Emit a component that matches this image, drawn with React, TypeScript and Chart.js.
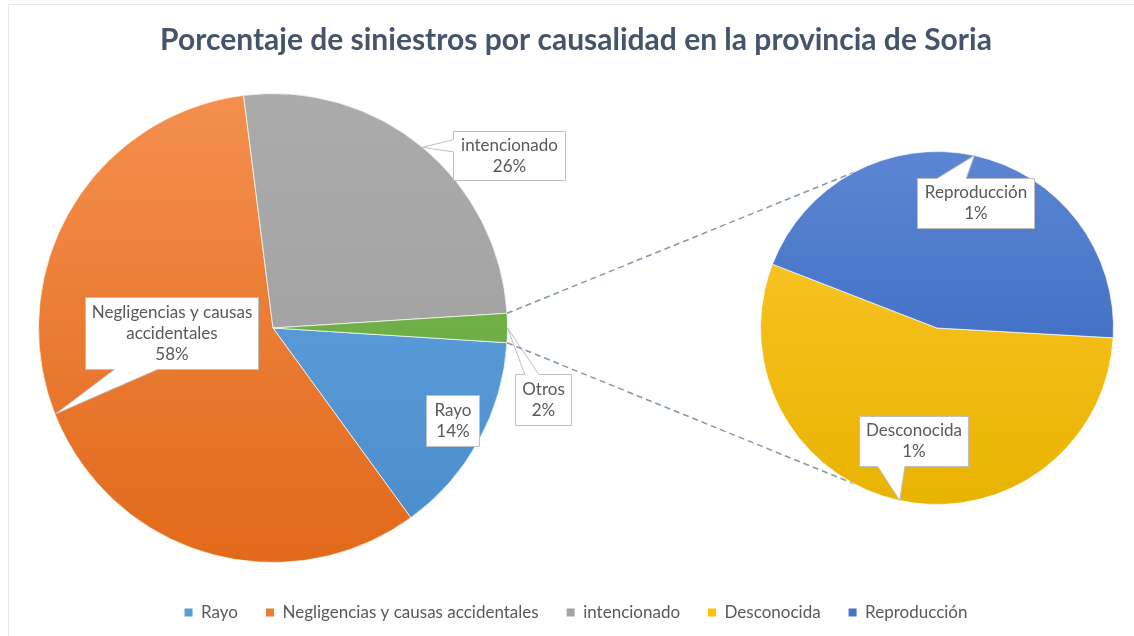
import React, { useEffect, useRef } from 'react';
import { Chart, registerables } from 'chart.js';

Chart.register(...registerables);

// ---------- data ----------
const TITLE = 'Porcentaje de siniestros por causalidad en la provincia de Soria';
const mainLabels = ['Rayo', 'Negligencias y causas accidentales', 'intencionado'];
const mainValues = [14, 58, 26];
const otrosLabel = 'Otros';
const secondaryLabels = ['Desconocida', 'Reproducción'];
const secondaryValues = [1.1, 0.9];
const legendLabels = ['Rayo', 'Negligencias y causas accidentales', 'intencionado', 'Desconocida', 'Reproducción'];

// ---------- styles ----------
const mainColorsTop = ['#66A7E3', '#F48F4E', '#ABABAB', '#7BBB51'];
const mainColorsBottom = ['#4A8BCB', '#E1691A', '#9C9C9C', '#63A23B'];
const secColorsTop = ['#FFC830', '#5C86D2'];
const secColorsBottom = ['#E8B300', '#2D60BC'];
const legendColors = ['#5B9BD5', '#ED7D31', '#A5A5A5', '#FFC000', '#4472C4'];
const TEXT_COLOR = '#595959';
const FONT_FAMILY = 'Lato, "Open Sans", sans-serif';
const LABEL_SIZE = 17;

const MAIN_PIE = { cx: 273, cy: 328, r: 235 };
const SEC_PIE = { cx: 937, cy: 328, r: 177 };
const SEC_ROTATION = 93.2;
const CONNECT_ANGLE = 118;

const MAIN_BOXES = [
  { cx: 452.5, cy: 420.5, w: 53, h: 51, breakAfter: 0 },
  { cx: 171.5, cy: 332.5, w: 173, h: 72, breakAfter: 3 },
  { cx: 509, cy: 155.5, w: 112, h: 49, breakAfter: 0 },
  { cx: 543, cy: 399.5, w: 56, h: 51, breakAfter: 0 },
];
const SEC_BOXES = [
  { cx: 913, cy: 441, w: 108, h: 50, breakAfter: 0 },
  { cx: 975.5, cy: 203, w: 117, h: 50, breakAfter: 0 },
];

const sum = (a: number[]) => a.reduce((s, v) => s + v, 0);
const otrosValue = sum(secondaryValues);
const grandTotal = sum(mainValues) + otrosValue;

function gradient(chart: any, top: string, bottom: string) {
  const area = chart.chartArea;
  if (!area) return top;
  const g = chart.ctx.createLinearGradient(0, area.top, 0, area.bottom);
  g.addColorStop(0, top);
  g.addColorStop(1, bottom);
  return g;
}

function placePie(p: { cx: number; cy: number; r: number }) {
  return {
    id: 'placePie',
    afterLayout(chart: any) {
      Object.assign(chart.chartArea, {
        left: p.cx - p.r,
        right: p.cx + p.r,
        top: p.cy - p.r,
        bottom: p.cy + p.r,
        width: 2 * p.r,
        height: 2 * p.r,
      });
    },
  };
}

function splitLabel(label: string, breakAfter: number) {
  if (!breakAfter) return [label];
  const words = label.split(' ');
  return [words.slice(0, breakAfter).join(' '), words.slice(breakAfter).join(' ')];
}

function drawCallout(ctx: CanvasRenderingContext2D, box: any, tip: { x: number; y: number }, lines: string[]) {
  ctx.save();
  ctx.font = `${LABEL_SIZE}px ${FONT_FAMILY}`;
  const tw = Math.max(...lines.map((l) => ctx.measureText(l).width));
  const w = Math.max(box.w, Math.ceil(tw + 12));
  const h = box.h;
  const l = Math.round(box.cx - w / 2) + 0.5;
  const t = Math.round(box.cy - h / 2) + 0.5;
  const r = l + w;
  const b = t + h;
  const cx = (l + r) / 2;
  const cy = (t + b) / 2;
  const dx = tip.x - cx;
  const dy = tip.y - cy;
  const inside = tip.x >= l && tip.x <= r && tip.y >= t && tip.y <= b;
  let side = '';
  if (!inside) {
    const dq = (dx * h) / w;
    if (Math.abs(dy) > Math.abs(dq)) side = dy < 0 ? 'top' : 'bottom';
    else side = dx < 0 ? 'left' : 'right';
  }
  const xa = dx < 0 ? l + (w * 2) / 12 : l + (w * 7) / 12;
  const xb = dx < 0 ? l + (w * 5) / 12 : l + (w * 10) / 12;
  const ya = dy < 0 ? t + (h * 2) / 12 : t + (h * 7) / 12;
  const yb = dy < 0 ? t + (h * 5) / 12 : t + (h * 10) / 12;
  ctx.beginPath();
  ctx.moveTo(l, t);
  if (side === 'top') {
    ctx.lineTo(xa, t);
    ctx.lineTo(tip.x, tip.y);
    ctx.lineTo(xb, t);
  }
  ctx.lineTo(r, t);
  if (side === 'right') {
    ctx.lineTo(r, ya);
    ctx.lineTo(tip.x, tip.y);
    ctx.lineTo(r, yb);
  }
  ctx.lineTo(r, b);
  if (side === 'bottom') {
    ctx.lineTo(xb, b);
    ctx.lineTo(tip.x, tip.y);
    ctx.lineTo(xa, b);
  }
  ctx.lineTo(l, b);
  if (side === 'left') {
    ctx.lineTo(l, yb);
    ctx.lineTo(tip.x, tip.y);
    ctx.lineTo(l, ya);
  }
  ctx.closePath();
  ctx.fillStyle = '#FFFFFF';
  ctx.fill();
  ctx.strokeStyle = '#BFBFBF';
  ctx.lineWidth = 1;
  ctx.stroke();
  ctx.fillStyle = TEXT_COLOR;
  ctx.textAlign = 'center';
  ctx.textBaseline = 'middle';
  const lh = 21;
  const y0 = cy - ((lines.length - 1) * lh) / 2;
  lines.forEach((ln, i) => ctx.fillText(ln, cx, y0 + i * lh));
  ctx.restore();
}

function calloutPlugin(boxes: any[], labels: string[], values: number[]) {
  return {
    id: 'callouts',
    afterDraw(chart: any) {
      const meta = chart.getDatasetMeta(0);
      meta.data.forEach((arc: any, i: number) => {
        const p = arc.getProps(['x', 'y', 'startAngle', 'endAngle', 'outerRadius'], true);
        const mid = (p.startAngle + p.endAngle) / 2;
        const tip = { x: p.x + p.outerRadius * Math.cos(mid), y: p.y + p.outerRadius * Math.sin(mid) };
        const pct = Math.round((values[i] / grandTotal) * 100);
        const lines = [...splitLabel(labels[i], boxes[i].breakAfter), `${pct}%`];
        drawCallout(chart.ctx, boxes[i], tip, lines);
      });
    },
  };
}

const framePlugin = {
  id: 'frame',
  beforeDraw(chart: any) {
    const ctx = chart.ctx;
    ctx.save();
    ctx.fillStyle = '#FFFFFF';
    ctx.fillRect(0, 0, chart.width, chart.height);
    ctx.strokeStyle = '#E2E8EF';
    ctx.lineWidth = 1;
    ctx.strokeRect(8.5, 4.5, chart.width + 20, chart.height + 20);
    ctx.restore();
  },
};

export default function App() {
  const aRef = useRef<HTMLCanvasElement>(null);
  const bRef = useRef<HTMLCanvasElement>(null);

  useEffect(() => {
    if (!aRef.current || !bRef.current) return;
    const leftLabels = [...mainLabels, otrosLabel];
    const leftValues = [...mainValues, otrosValue];
    const otrosDeg = (otrosValue / grandTotal) * 360;

    const chartA = new Chart(aRef.current, {
      type: 'pie',
      data: {
        labels: leftLabels,
        datasets: [
          {
            data: leftValues,
            backgroundColor: (c: any) =>
              c.dataIndex === undefined ? '#ccc' : gradient(c.chart, mainColorsTop[c.dataIndex], mainColorsBottom[c.dataIndex]),
            borderColor: 'rgba(255,255,255,0.7)',
            borderWidth: 1,
          },
        ],
      },
      options: {
        responsive: false,
        animation: false,
        rotation: 90 + otrosDeg / 2,
        events: [],
        layout: { padding: { top: 0, bottom: 5, left: 18, right: 0 } },
        plugins: {
          title: {
            display: true,
            text: TITLE,
            color: '#44546A',
            font: { family: FONT_FAMILY, size: 30, weight: 'bold' },
            padding: { top: 22, bottom: 10 },
          },
          legend: {
            position: 'bottom',
            onClick: () => {},
            labels: {
              boxWidth: 8,
              boxHeight: 8,
              padding: 28,
              color: TEXT_COLOR,
              font: { family: FONT_FAMILY, size: LABEL_SIZE },
              generateLabels: () =>
                legendLabels.map((text, i) => ({
                  text,
                  fillStyle: legendColors[i],
                  strokeStyle: legendColors[i],
                  lineWidth: 0,
                  hidden: false,
                  index: i,
                  fontColor: TEXT_COLOR,
                })),
            },
          },
          tooltip: { enabled: false },
        },
      } as any,
      plugins: [framePlugin, placePie(MAIN_PIE), calloutPlugin(MAIN_BOXES, leftLabels, leftValues)],
    });

    const connectorPlugin = {
      id: 'connectors',
      beforeDatasetsDraw(chart: any) {
        const arcA = chartA.getDatasetMeta(0).data[3] as any;
        const arcB = chart.getDatasetMeta(0).data[0] as any;
        if (!arcA || !arcB) return;
        const a = arcA.getProps(['x', 'y', 'startAngle', 'endAngle', 'outerRadius'], true);
        const b = arcB.getProps(['x', 'y', 'outerRadius'], true);
        const ang = (CONNECT_ANGLE * Math.PI) / 180;
        const ctx = chart.ctx;
        ctx.save();
        ctx.setLineDash([6, 4]);
        ctx.strokeStyle = '#8497B0';
        ctx.lineWidth = 1.5;
        ctx.beginPath();
        ctx.moveTo(a.x + a.outerRadius * Math.cos(a.startAngle), a.y + a.outerRadius * Math.sin(a.startAngle));
        ctx.lineTo(b.x + b.outerRadius * Math.cos(-ang), b.y + b.outerRadius * Math.sin(-ang));
        ctx.moveTo(a.x + a.outerRadius * Math.cos(a.endAngle), a.y + a.outerRadius * Math.sin(a.endAngle));
        ctx.lineTo(b.x + b.outerRadius * Math.cos(ang), b.y + b.outerRadius * Math.sin(ang));
        ctx.stroke();
        ctx.restore();
      },
    };

    const chartB = new Chart(bRef.current, {
      type: 'pie',
      data: {
        labels: secondaryLabels,
        datasets: [
          {
            data: secondaryValues,
            backgroundColor: (c: any) =>
              c.dataIndex === undefined ? '#ccc' : gradient(c.chart, secColorsTop[c.dataIndex], secColorsBottom[c.dataIndex]),
            borderColor: 'rgba(255,255,255,0.7)',
            borderWidth: 1,
          },
        ],
      },
      options: {
        responsive: false,
        animation: false,
        rotation: SEC_ROTATION,
        events: [],
        plugins: {
          title: { display: false },
          legend: { display: false },
          tooltip: { enabled: false },
        },
      } as any,
      plugins: [placePie(SEC_PIE), connectorPlugin, calloutPlugin(SEC_BOXES, secondaryLabels, secondaryValues)],
    });

    return () => {
      chartB.destroy();
      chartA.destroy();
    };
  }, []);

  return (
    <div style={{ position: 'absolute', left: 0, top: 0, width: 1134, height: 636, background: '#fff', overflow: 'hidden' }}>
      <canvas ref={aRef} width={1134} height={636} style={{ position: 'absolute', left: 0, top: 0 }} />
      <canvas ref={bRef} width={1134} height={636} style={{ position: 'absolute', left: 0, top: 0, pointerEvents: 'none' }} />
    </div>
  );
}
